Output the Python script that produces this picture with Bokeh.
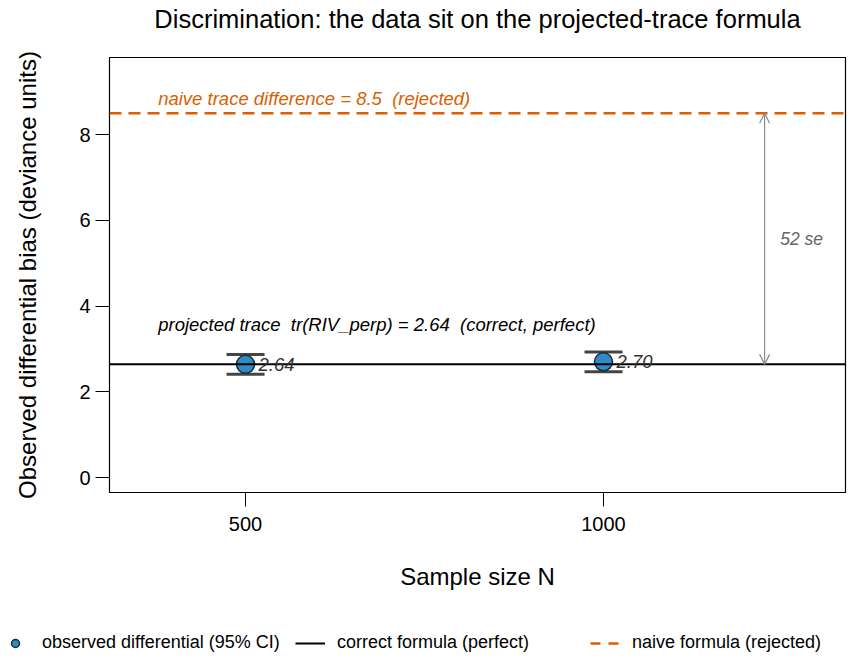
from bokeh.plotting import figure
from bokeh.layouts import column
from bokeh.models import (Range1d, FixedTicker, Label, Arrow, OpenHead, Whisker,
                          TeeHead, ColumnDataSource, Legend, LegendItem)
from bokeh.embed import file_html
from bokeh.resources import INLINE

# ---- data ----
sample_sizes = [500, 1000]
observed = [2.64, 2.70]
ci_lower = [2.41, 2.47]
ci_upper = [2.87, 2.93]
point_labels = ["2.64", "2.70"]
correct_value = 2.64
naive_value = 8.5
se_gap_label = "52 se"
y_ticks = [0, 2, 4, 6, 8]
title_text = "Discrimination: the data sit on the projected-trace formula"
legend_labels = ["observed differential (95% CI)", "correct formula (perfect)",
                 "naive formula (rejected)"]

FONT = "Liberation Sans"
BLUE = "#2e8bc6"
ORANGE = "#d95f02"
NB = "\u00a0"
NAN = float("nan")


def strip(height):
    f = figure(width=851, height=height, output_backend="svg", toolbar_location=None,
               x_range=Range1d(0, 1), y_range=Range1d(0, 1),
               x_axis_location=None, y_axis_location=None, min_border=0)
    f.grid.visible = False
    f.outline_line_color = None
    f.border_fill_color = "white"
    f.frame_align = False
    return f


# ---- title strip ----
t = strip(45)
t.add_layout(Label(x=477, y=27, x_units="screen", y_units="screen", text=title_text,
                   text_align="center", text_baseline="middle", text_font=FONT,
                   text_font_size="25.5px", text_color="black"))

# ---- main plot ----
p = figure(width=851, height=580, output_backend="svg", toolbar_location=None,
           x_range=Range1d(310, 1338), y_range=Range1d(-0.35, 9.80),
           min_border_left=109, min_border_right=6, min_border_top=12,
           min_border_bottom=133)
p.frame_align = False
p.grid.visible = False
p.outline_line_color = "black"
p.outline_line_width = 1.2
p.background_fill_color = "white"
p.border_fill_color = "white"

for ax in (p.xaxis[0], p.yaxis[0]):
    ax.axis_line_color = None
    ax.major_tick_in = 0
    ax.major_tick_out = 14
    ax.major_tick_line_color = "black"
    ax.minor_tick_line_color = None
    ax.major_label_text_font = FONT
    ax.major_label_text_font_size = "20px"
    ax.major_label_text_color = "black"
    ax.axis_label_text_font = FONT
    ax.axis_label_text_font_size = "24px"
    ax.axis_label_text_font_style = "normal"
    ax.axis_label_text_color = "black"

p.xaxis.ticker = FixedTicker(ticks=sample_sizes)
p.yaxis.ticker = FixedTicker(ticks=y_ticks)
p.xaxis.axis_label = "Sample size N"
p.yaxis.axis_label = "Observed differential bias (deviance units)"
p.xaxis.major_label_standoff = 10
p.xaxis.axis_label_standoff = 29
p.yaxis.major_label_standoff = 5
p.yaxis.axis_label_standoff = 35

src = ColumnDataSource(dict(n=sample_sizes, obs=observed, lo=ci_lower, hi=ci_upper,
                            lab=point_labels))

# reference lines across the frame
xr = [p.x_range.start, p.x_range.end]
p.line(xr, [naive_value] * 2, line_color=ORANGE, line_width=2.5, line_dash="12 7")

# points
p.scatter("n", "obs", source=src, size=18, fill_color=BLUE,
          line_color="#1b2b3a", line_width=1.5)

# error bars
wh = Whisker(source=src, base="n", upper="hi", lower="lo", line_color="#333333",
             line_width=2.5,
             upper_head=TeeHead(size=38, line_color="#444444", line_width=3),
             lower_head=TeeHead(size=38, line_color="#444444", line_width=3))
p.add_layout(wh)

p.line(xr, [correct_value] * 2, line_color="black", line_width=2)

# point labels
for n, o, lab in zip(sample_sizes, observed, point_labels):
    p.add_layout(Label(x=n, y=o, text=lab, x_offset=13, text_baseline="middle",
                       text_font=FONT, text_font_size="18.5px",
                       text_font_style="italic", text_color="#333333"))

# annotations
p.add_layout(Label(x=378, y=naive_value, y_offset=15,
                   text=f"naive trace difference = {naive_value}{NB} (rejected)",
                   text_baseline="middle", text_font=FONT, text_font_size="18.5px",
                   text_font_style="italic", text_color=ORANGE))
p.add_layout(Label(x=378, y=correct_value, y_offset=40,
                   text=f"projected trace{NB} tr(RIV_perp) = {correct_value:.2f}{NB} (correct, perfect)",
                   text_baseline="middle", text_font=FONT, text_font_size="18.5px",
                   text_font_style="italic", text_color="black"))

# gap arrow
p.add_layout(Arrow(x_start=1225, y_start=correct_value, x_end=1225, y_end=naive_value,
                   line_color="#8c8c8c", line_width=1.2,
                   start=OpenHead(size=10, line_color="#8c8c8c", line_width=1.2),
                   end=OpenHead(size=10, line_color="#8c8c8c", line_width=1.2)))
p.add_layout(Label(x=1225, y=(correct_value + naive_value) / 2, x_offset=37,
                   text=se_gap_label, text_align="center", text_baseline="middle",
                   text_font=FONT, text_font_size="17.5px", text_font_style="italic",
                   text_color="#666666"))

# ---- legend strip ----
q = strip(36)
r1 = q.scatter(x=[NAN], y=[NAN], size=18, fill_color=BLUE, line_color="#1b2b3a",
               line_width=1.5)
r2 = q.line(x=[NAN, NAN], y=[NAN, NAN], line_color="black", line_width=2)
r3 = q.line(x=[NAN, NAN], y=[NAN, NAN], line_color=ORANGE, line_width=2.5,
            line_dash="10 8")
lg = Legend(items=[LegendItem(label=l, renderers=[r]) for l, r in
                   zip(legend_labels, [r1, r2, r3])],
            location=(0, 8), orientation="horizontal",
            glyph_width=30, glyph_height=20, label_height=20, label_width=250,
            label_standoff=12, padding=0, margin=0, spacing=3,
            border_line_color=None, background_fill_alpha=0,
            label_text_font=FONT, label_text_font_size="18px",
            label_text_color="black")
q.add_layout(lg, "center")

open("out.html", "w").write(file_html(column(t, p, q, spacing=0), INLINE))
